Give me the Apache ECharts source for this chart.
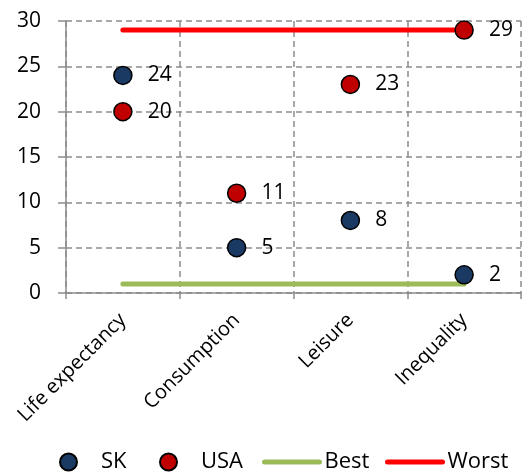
<!DOCTYPE html>
<html>

<head>
  <meta charset="UTF-8">
  <title>SK vs USA</title>
  <script src="https://cdn.jsdelivr.net/npm/echarts@6.0.0/dist/echarts.min.js"></script>
  <style>
    body { margin: 0; background: #fff; }
    #chart { width: 523px; height: 474px; }
  </style>
</head>

<body>
  <div id="chart"></div>
  <script>
    // data
    const categories = ['Life expectancy', 'Consumption', 'Leisure', 'Inequality'];
    const skValues = [24, 5, 8, 2];
    const usaValues = [20, 11, 23, 29];
    const bestValues = [1, 1, 1, 1];
    const worstValues = [29, 29, 29, 29];

    const font = '"Open Sans", sans-serif';
    const gridGray = '#8c8c8c';

    function dotSeries(name, data, color) {
      return {
        name: name,
        type: 'scatter',
        data: data,
        symbolSize: 18,
        z: 5,
        itemStyle: { color: color, opacity: 1, borderColor: '#000', borderWidth: 1.5 },
        label: {
          show: true,
          position: 'right',
          distance: 15,
          color: '#000',
          fontSize: 21,
          fontFamily: font
        }
      };
    }

    function flatLine(name, data, color) {
      return {
        name: name,
        type: 'line',
        data: data,
        symbol: 'none',
        z: 2,
        lineStyle: { color: color, width: 5, cap: 'round' },
        itemStyle: { color: color }
      };
    }

    // one legend per entry so each can sit where it is in the picture
    function legendAt(name, left, isLine) {
      return {
        data: [isLine ? { name: name, itemStyle: { opacity: 0 } } : name],
        left: left,
        top: 451,
        padding: 0,
        itemWidth: 55,
        itemHeight: 17,
        symbolKeepAspect: true,
        lineStyle: { width: 5, cap: 'round' },
        textStyle: { fontSize: 22, fontFamily: font, color: '#000' }
      };
    }

    const chart = echarts.init(document.getElementById('chart'));
    chart.setOption({
      animation: false,
      grid: { left: 66, right: 2, top: 21, bottom: 181 },
      legend: [
        legendAt('SK', 59, false),
        legendAt('USA', 159, false),
        legendAt('Best', 262, true),
        legendAt('Worst', 385, true)
      ],
      xAxis: {
        type: 'category',
        data: categories,
        boundaryGap: true,
        axisLine: { lineStyle: { color: gridGray, width: 1.5 } },
        axisTick: { show: true, length: 6, interval: 0, lineStyle: { color: gridGray, width: 1.5 } },
        splitLine: { show: true, interval: 0, lineStyle: { color: gridGray, type: [6, 4], width: 1.5 } },
        axisLabel: {
          interval: 0,
          rotate: 45,
          margin: 24,
          color: '#000',
          fontSize: 20,
          fontFamily: font
        }
      },
      yAxis: {
        type: 'value',
        min: 0,
        max: 30,
        interval: 5,
        axisLine: { show: true, lineStyle: { color: gridGray, width: 1.5 } },
        axisTick: { show: true, length: 8, lineStyle: { color: gridGray, width: 1.5 } },
        splitLine: { lineStyle: { color: gridGray, type: [6, 4], width: 1.5 } },
        axisLabel: { margin: 25, color: '#000', fontSize: 21, fontFamily: font }
      },
      series: [
        dotSeries('SK', skValues, '#1b3a63'),
        dotSeries('USA', usaValues, '#c00000'),
        flatLine('Best', bestValues, '#9bbb59'),
        flatLine('Worst', worstValues, '#ff0000')
      ]
    });
  </script>
</body>

</html>
